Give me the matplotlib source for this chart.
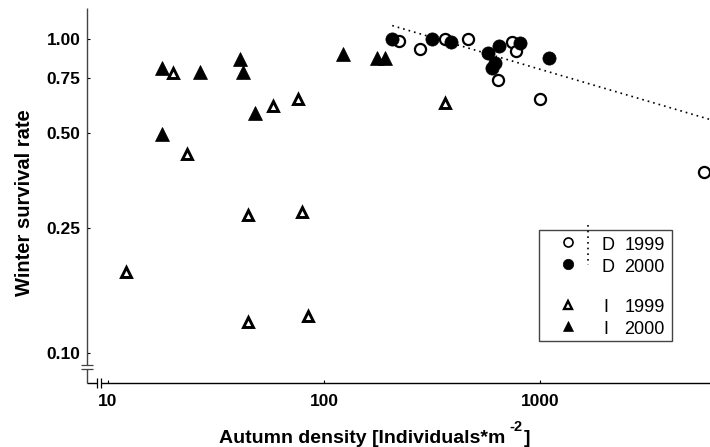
import matplotlib
matplotlib.use("Agg")
import matplotlib.pyplot as plt
from matplotlib.lines import Line2D
from matplotlib.patches import Rectangle

plt.rcParams['font.family'] = ['Liberation Sans', 'DejaVu Sans']

# ---- data ----
d1999_x = [223, 278, 363, 466, 745, 774, 640, 1003, 5763]
d1999_y = [0.988, 0.929, 1.00, 1.00, 0.976, 0.916, 0.739, 0.643, 0.377]
d2000_x = [207, 315, 387, 577, 648, 622, 597, 807, 1101]
d2000_y = [1.00, 1.00, 0.978, 0.900, 0.952, 0.840, 0.806, 0.969, 0.870]
i1999_x = [12.1, 19.9, 23.2, 44.4, 78.9, 44.4, 84.6, 57.9, 75.5, 362]
i1999_y = [0.181, 0.778, 0.430, 0.275, 0.282, 0.125, 0.131, 0.613, 0.644, 0.624]
i2000_x = [17.7, 17.7, 26.7, 41.0, 42.2, 47.8, 122.5, 176, 191]
i2000_y = [0.806, 0.497, 0.787, 0.862, 0.785, 0.580, 0.896, 0.868, 0.868]
fit_x = [207, 6124]
fit_y = [1.103, 0.554]

y_ticks = [0.10, 0.25, 0.50, 0.75, 1.00]
y_ticklabels = ["0.10", "0.25", "0.50", "0.75", "1.00"]
x_ticks = [10, 100, 1000]
x_ticklabels = ["10", "100", "1000"]
legend_labels = [("D", "1999"), ("D", "2000"), ("I", "1999"), ("I", "2000")]

W, H = 710, 447
fig = plt.figure(figsize=(W / 100, H / 100), dpi=100)
ax_l, ax_r, ax_t, ax_b = 86.7, 710, 8, 383
ax = fig.add_axes([ax_l / W, (H - ax_b) / H, (ax_r - ax_l) / W, (ax_b - ax_t) / H])

ax.set_xscale('log')
ax.set_yscale('log')
ax.set_xlim(7.97, 6124)
ax.set_ylim(0.0802, 1.255)

dot = (0, (1, 2.4))
ax.plot(fit_x, fit_y, color='black', lw=1.2, linestyle=dot, zorder=2)

ax.plot(d1999_x, d1999_y, linestyle='none', marker='o', ms=8, mfc='white',
        mec='black', mew=1.6, zorder=3)
ax.plot(d2000_x, d2000_y, linestyle='none', marker='o', ms=9.5, mfc='black',
        mec='black', mew=0.5, zorder=4)
ax.plot(i1999_x, i1999_y, linestyle='none', marker='^', ms=7.2, mfc='white',
        mec='black', mew=2.1, zorder=3)
ax.plot(i2000_x, i2000_y, linestyle='none', marker='^', ms=9.5, mfc='black',
        mec='black', mew=0.5, zorder=4)

for s in ax.spines.values():
    s.set_visible(False)

ax.set_yticks(y_ticks)
ax.set_yticklabels(y_ticklabels)
ax.set_xticks(x_ticks)
ax.set_xticklabels(x_ticklabels)
ax.minorticks_off()
ax.tick_params(axis='y', direction='in', length=2.5, width=0.8, pad=4.5,
               labelsize=12.5)
ax.tick_params(axis='x', direction='in', length=2, width=0.8, pad=8,
               labelsize=12.5)
for lab in ax.get_xticklabels() + ax.get_yticklabels():
    lab.set_fontweight('bold')

def fx(px):
    return (px - ax_l) / (ax_r - ax_l)

def fy(py):
    return (ax_b - py) / (ax_b - ax_t)

T = ax.transAxes
kw = dict(transform=T, clip_on=False, solid_capstyle='butt')
# y axis with break
ax.add_line(Line2D([0, 0], [1, fy(364.5)], color='#444444', lw=1.0, **kw))
ax.add_line(Line2D([0, 0], [fy(369), 0], color='#444444', lw=1.0, **kw))
for py in (365, 369):
    ax.add_line(Line2D([fx(81), fx(93)], [fy(py), fy(py)], color='#444444', lw=0.9, **kw))
# x axis with break
ax.add_line(Line2D([0, fx(96.7)], [0, 0], color='black', lw=1.0, **kw))
ax.add_line(Line2D([fx(100.7), 1], [0, 0], color='black', lw=1.0, **kw))
for px in (96.7, 100.7):
    ax.add_line(Line2D([fx(px), fx(px)], [fy(378), fy(387.5)], color='black', lw=0.9, **kw))

# legend (custom)
ax.add_patch(Rectangle((fx(539), fy(341)), fx(672) - fx(539), fy(230) - fy(341),
                       transform=T, fill=False, edgecolor='#444444', lw=1.0,
                       clip_on=False, zorder=5))
ax.add_line(Line2D([fx(588.3), fx(588.3)], [fy(225), fy(265)], color='black',
                   lw=1.2, linestyle=dot, transform=T, clip_on=False, zorder=6))
leg_marker_y = [242.3, 264, 305, 326]
leg_text_y = [246, 268, 308, 329]
leg_styles = [
    dict(marker='o', ms=6.5, mfc='white', mec='black', mew=1.2),
    dict(marker='o', ms=7.5, mfc='black', mec='black', mew=0.5),
    dict(marker='^', ms=6.0, mfc='white', mec='black', mew=1.7),
    dict(marker='^', ms=7.5, mfc='black', mec='black', mew=0.5),
]
for (letter, year), my, ty, st in zip(legend_labels, leg_marker_y, leg_text_y, leg_styles):
    ax.add_line(Line2D([fx(568)], [fy(my)], linestyle='none', transform=T,
                       clip_on=False, zorder=6, **st))
    lx = 601.5 if letter == 'D' else 603
    ax.text(fx(lx), fy(ty), letter, transform=T, ha='left', va='center',
            fontsize=13)
    ax.text(fx(665), fy(ty), year, transform=T, ha='right', va='center',
            fontsize=13)

fig.text(25 / W, (H - 203) / H, "Winter survival rate", rotation=90,
         ha='center', va='center', fontsize=14.5, fontweight='bold')

# x label built from pieces: main text, raised "-2", closing bracket
baseline_px = 443
t1 = fig.text(219 / W, (H - baseline_px) / H, "Autumn density [Individuals*m",
              ha='left', va='baseline', fontsize=14, fontweight='bold')
renderer = fig.canvas.get_renderer()
bb1 = t1.get_window_extent(renderer=renderer)
x_sup = bb1.x1 + 4.5
t2 = fig.text(x_sup / W, (H - 431) / H, "-2", ha='left', va='baseline',
              fontsize=10.5, fontweight='bold')
bb2 = t2.get_window_extent(renderer=renderer)
fig.text((bb2.x1 + 0.5) / W, (H - baseline_px) / H, "]", ha='left',
         va='baseline', fontsize=14, fontweight='bold')

fig.savefig("out.png", dpi=100)
